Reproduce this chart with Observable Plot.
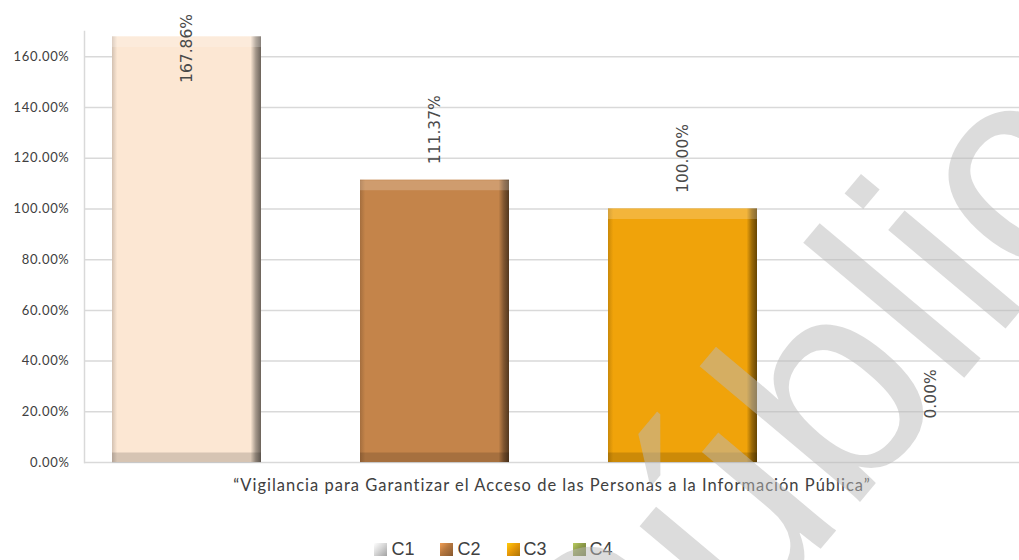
<!DOCTYPE html>
<html><head><meta charset="utf-8">
<script src="https://cdn.jsdelivr.net/npm/d3@7"></script>
<script src="https://cdn.jsdelivr.net/npm/@observablehq/plot@0.6"></script>
<style>
body{margin:0;background:#fff;width:1019px;height:560px;overflow:hidden;position:relative;font-family:"Liberation Sans",sans-serif}
#chart svg{display:block}
#chart g[aria-label="y-axis tick label"] text{letter-spacing:0.7px}
#chart .xlab text{letter-spacing:1px}
#legend{height:40px;display:flex;justify-content:center;align-items:center;padding-top:18px;box-sizing:border-box;padding-right:32px;font-size:18px;color:#404040}
#legend .item{display:flex;align-items:center;margin:0 13px}
#legend .sw{width:13px;height:13px;margin-right:4px;box-sizing:border-box}
#wm{position:absolute;left:0;top:0;pointer-events:none}
</style></head><body>
<div id="chart"></div>
<div id="legend"></div>
<svg id="wm" width="1019" height="560"><text x="620" y="788" transform="rotate(-50 620 788)" font-size="290" font-family="Liberation Sans" fill="rgba(185,185,185,0.5)">Público</text></svg>
<script>
const categories = ["C1", "C2", "C3", "C4"];
const values = [167.86, 111.37, 100.00, 0.00];
const yTicks = [0, 20, 40, 60, 80, 100, 120, 140, 160];
const xLabel = "“Vigilancia para Garantizar el Acceso de las Personas a la Información Pública”";
const barColors = ["#FCE7D3", "#C4844A", "#F0A30A", "#8C9A48"];
const legendColors = ["#D8D8D8", "#B5773F", "#E89A08", "#8C9A48"];

const data = categories.map((c, i) => ({cat: c, val: values[i], i}));

// gradient defs for bevelled bars
const defs = d3.select("body").append("svg").attr("width", 0).attr("height", 0).style("position", "absolute").append("defs");
barColors.forEach((c, i) => {
  const g = defs.append("linearGradient").attr("id", "g" + i).attr("x1", 0).attr("x2", 1).attr("y1", 0).attr("y2", 0);
  const col = d3.color(c);
  [[0, col.darker(0.5)], [0.035, col], [0.93, col], [0.965, col.darker(1.2)], [1, col.darker(2.4)]]
    .forEach(([o, k]) => g.append("stop").attr("offset", o).attr("stop-color", k.formatHex()));
});

const fmt = d => d.toFixed(2) + "%";
const tall = data.filter(d => d.i === 0);
const mid = data.filter(d => d.i !== 0 && d.val > 0);
const zero = data.filter(d => d.val === 0);
const pos = data.filter(d => d.val > 0);
const labelOpts = {x: "cat", y: "val", text: d => fmt(d.val), rotate: -90, textAnchor: "start", fontSize: 15.5, fontFamily: "DejaVu Sans", fill: "#4a4a4a"};

const plot = Plot.plot({
  width: 1019,
  height: 520,
  marginLeft: 84,
  marginRight: 0,
  marginTop: 31,
  marginBottom: 58,
  style: {fontFamily: "Lato", fontSize: "13px", color: "#404040", background: "#fff"},
  x: {domain: categories, range: [10.7, 1106.3], padding: 0.4, axis: null},
  y: {domain: [0, 170], ticks: yTicks, tickFormat: fmt, label: null},
  marks: [
    Plot.ruleY(yTicks, {stroke: "#d9d9d9", strokeWidth: 1.5}),
    Plot.frame({anchor: "left", stroke: "#d9d9d9", strokeWidth: 1.5}),
    Plot.axisY({ticks: yTicks, tickSize: 0, tickPadding: 15, tickFormat: fmt, label: null, fontSize: 13, fill: "#404040"}),
    Plot.barY(data, {x: "cat", y: "val", fill: d => `url(#g${d.i})`}),
    Plot.tickY(pos, {x: "cat", y: "val", stroke: "#fff", strokeOpacity: 0.2, strokeWidth: 10, dy: 5}),
    Plot.tickY(pos, {x: "cat", y: 0, stroke: "#000", strokeOpacity: 0.15, strokeWidth: 10, dy: -5}),
    Plot.text(tall, {...labelOpts, dy: 46}),
    Plot.text(mid, {...labelOpts, dy: -16}),
    Plot.text(zero, {...labelOpts, dy: -44}),
    Plot.text([xLabel], {text: d => d, frameAnchor: "bottom", dy: 28, fontSize: 16.5, fill: "#404040", className: "xlab"})
  ]
});
document.getElementById("chart").appendChild(plot);

const lg = d3.select("#legend");
categories.forEach((c, i) => {
  const it = lg.append("div").attr("class", "item");
  const col = d3.color(legendColors[i]);
  it.append("div").attr("class", "sw")
    .style("background", `linear-gradient(135deg, ${col.brighter(0.8).formatHex()} 0%, ${col.formatHex()} 45%, ${col.darker(0.8).formatHex()} 100%)`);
  it.append("span").text(c);
});
</script>
</body></html>
